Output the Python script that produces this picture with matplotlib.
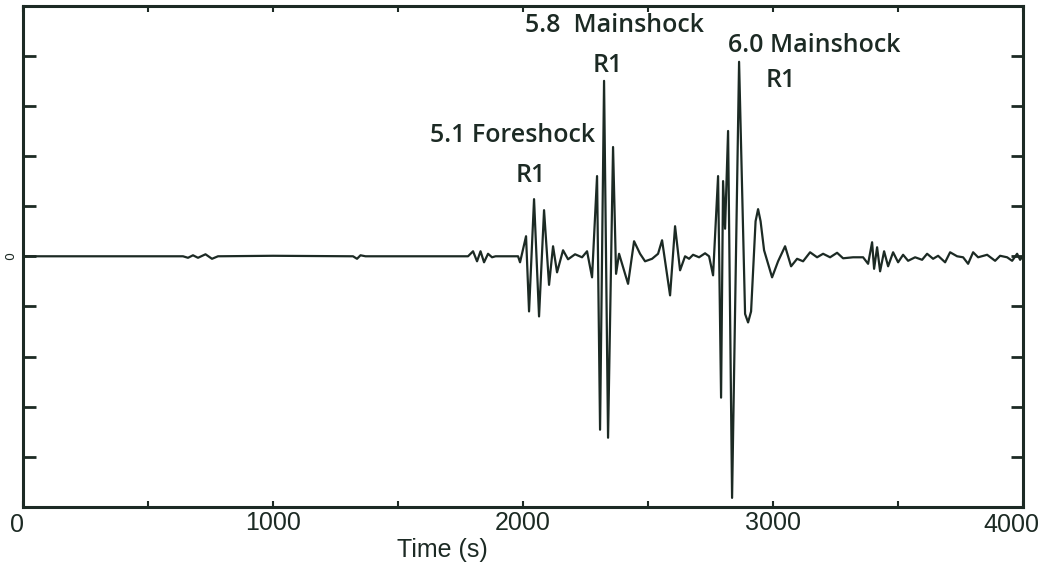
import numpy as np
import matplotlib.pyplot as plt

# seismogram trace: time (s) and relative amplitude
time_s = [
    0, 600, 640, 660, 680, 700, 730, 756, 780, 1000, 1320, 1336, 1350, 1370,
    1780, 1800, 1816, 1830, 1844, 1860, 1876, 1890, 1980,
    1988, 2012, 2024, 2044, 2064, 2084, 2104, 2120, 2136, 2160, 2180, 2208,
    2236, 2256, 2276, 2296, 2308, 2324, 2340, 2360, 2372, 2384, 2420,
    2444, 2468, 2488, 2516, 2540, 2556, 2588, 2608, 2628, 2648, 2664, 2680,
    2704, 2728, 2744, 2760, 2780, 2792, 2800, 2808, 2820, 2836, 2864, 2888,
    2900, 2912, 2930, 2940, 2950, 2964, 2996, 3020, 3048, 3072, 3096, 3120,
    3148, 3176, 3200, 3228, 3256, 3280, 3320, 3360, 3380, 3396, 3404, 3416,
    3428, 3444, 3460, 3480, 3500, 3520, 3540, 3568, 3596, 3616, 3640, 3660,
    3688, 3708, 3736, 3760, 3780, 3800, 3820, 3856, 3888, 3908, 3936, 3956,
    3976, 3988, 4000,
]
amplitude = [
    0, 0, 0, -0.03, 0.02, -0.03, 0.04, -0.05, 0, 0.01, 0, -0.05, 0.02, 0,
    0, 0.1, -0.1, 0.1, -0.12, 0.05, -0.02, 0, 0,
    -0.12, 0.4, -1.1, 1.14, -1.2, 0.92, -0.57, 0.2, -0.32, 0.12, -0.06, 0.04,
    -0.02, 0.1, -0.42, 1.6, -3.46, 3.5, -3.62, 2.18, -0.35, 0.05, -0.55,
    0.3, 0.05, -0.1, -0.05, 0.05, 0.32, -0.78, 0.6, -0.28, 0.0, -0.05, 0.03,
    -0.02, 0.06, 0.0, -0.38, 1.6, -2.82, 1.5, 0.55, 2.5, -4.82, 3.88, -1.15,
    -1.32, -1.1, 0.7, 0.94, 0.7, 0.12, -0.42, -0.1, 0.2, -0.2, -0.05, -0.1,
    0.08, -0.02, 0.05, -0.02, 0.07, -0.04, -0.02, -0.02, -0.15, 0.28, -0.25, 0.18,
    -0.3, 0.1, -0.2, 0.08, -0.12, 0.03, -0.09, -0.02, -0.07, 0.05, -0.05, 0.01,
    -0.12, 0.08, 0.0, -0.02, -0.15, 0.08, -0.02, 0.03, -0.09, 0.01, -0.02, -0.09,
    0.05, -0.07, 0.01,
]

xticks = [0, 1000, 2000, 3000, 4000]
xtick_labels = ["0", "1000", "2000", "3000", "4000"]
xminor = [500, 1500, 2500, 3500]

labels = ["5.8  Mainshock", "R1", "6.0 Mainshock", "R1", "5.1 Foreshock", "R1"]
label_t = [2365, 2340, 3165, 3030, 1960, 2030]
label_a = [4.6, 3.8, 4.2, 3.5, 2.4, 1.62]

ink = "#1c2a24"
tick_font = "Liberation Sans"

fig = plt.figure(figsize=(10.44, 5.67), dpi=100)
ax = fig.add_axes([0.022, 0.106, 0.958, 0.884])

ax.plot(time_s, amplitude, color=ink, lw=1.6)

ax.set_xlim(0, 4000)
ax.set_ylim(-5, 5)

# end labels are drawn separately so they can sit inside the figure edge
ax.set_xticks(xticks)
ax.set_xticklabels([""] + xtick_labels[1:-1] + [""], family=tick_font)
ax.set_xticks(xminor, minor=True)
ax.set_yticks(np.arange(-4, 5))
ax.set_yticklabels(["" if v != 0 else "0" for v in range(-4, 5)])

ax.tick_params(axis="x", which="both", direction="in", top=True, length=4,
               width=1.5, color=ink, labelsize=18, labelcolor=ink, pad=3)
ax.tick_params(axis="y", direction="in", right=True, length=9, width=2,
               color=ink, labelsize=9, labelcolor=ink, pad=4)
for lab in ax.get_yticklabels():
    lab.set_rotation(90)
    lab.set_va("center")

trans = ax.get_xaxis_transform()
ax.text(-25, -0.013, xtick_labels[0], transform=trans, ha="center", va="top",
        fontsize=18, family=tick_font, color=ink)
ax.text(3955, -0.013, xtick_labels[-1], transform=trans, ha="center", va="top",
        fontsize=18, family=tick_font, color=ink)

for s in ax.spines.values():
    s.set_linewidth(2.2)
    s.set_color(ink)

ax.set_xlabel("Time (s)", family=tick_font, fontsize=18, color=ink)
ax.xaxis.set_label_coords(0.419, -0.086)
ax.xaxis.label.set_va("center")

for txt, t, a in zip(labels, label_t, label_a):
    ax.text(t, a, txt, ha="center", va="center", fontsize=18,
            family="Open Sans", weight="semibold", color=ink)

fig.savefig("out.png", dpi=100)
